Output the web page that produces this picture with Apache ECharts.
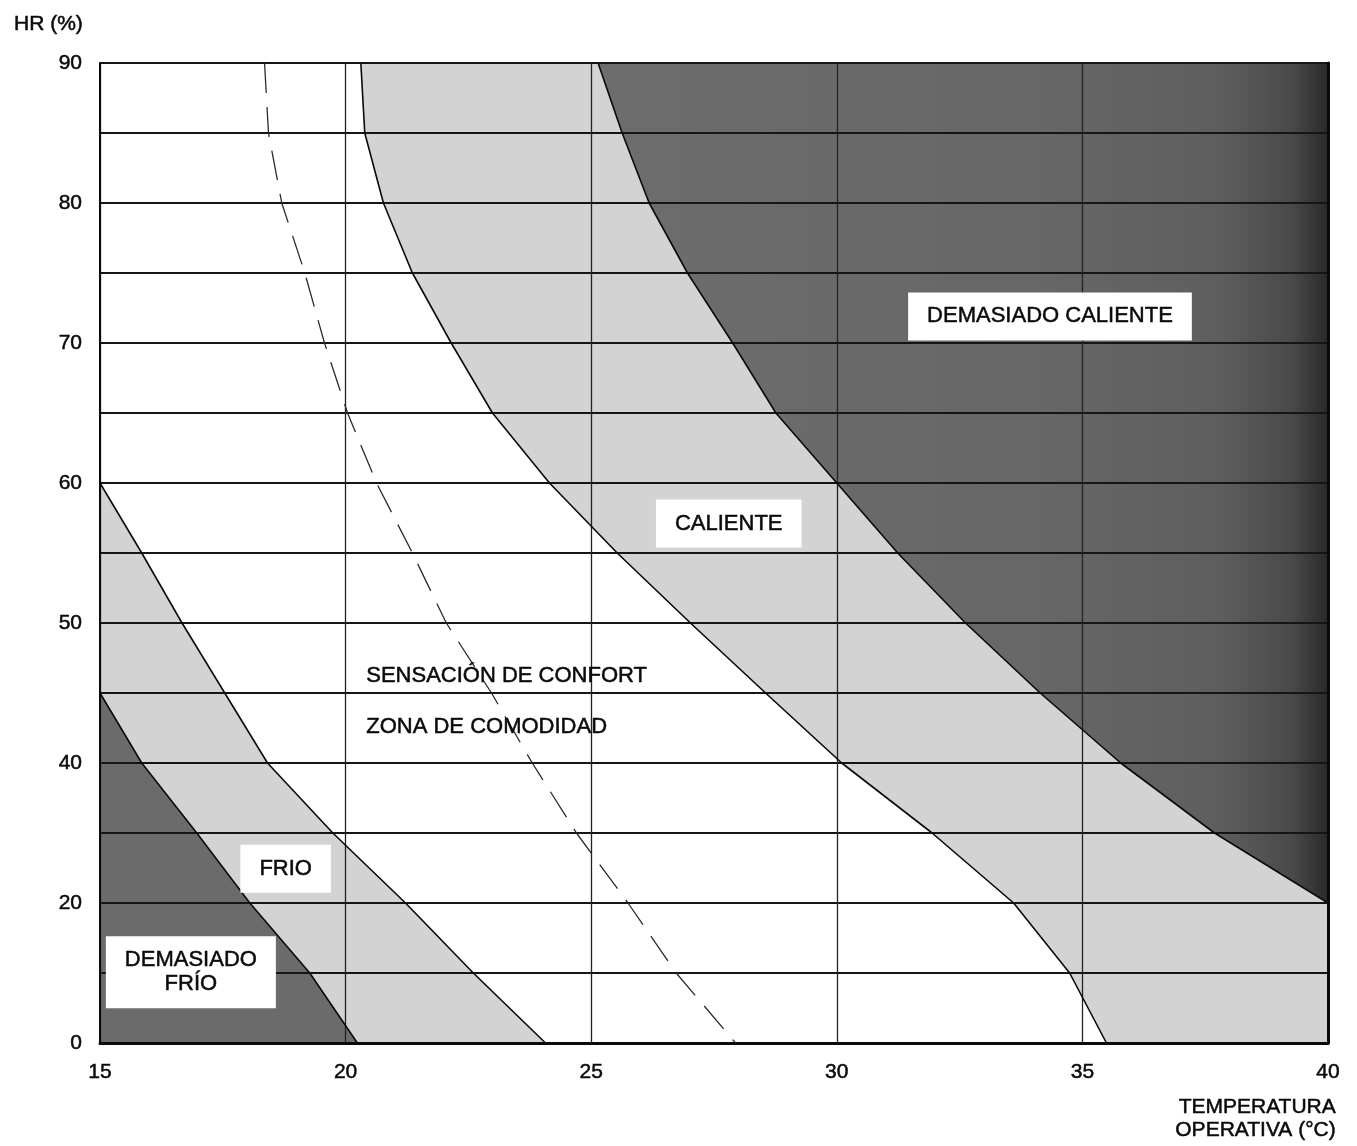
<!DOCTYPE html>
<html>
<head>
<meta charset="utf-8">
<title>Zonas de confort térmico</title>
<script src="https://cdn.jsdelivr.net/npm/echarts@6/dist/echarts.min.js"></script>
<style>
  html, body { margin: 0; background: #fff; }
  #chart { width: 1357px; height: 1146px; }
</style>
</head>
<body>
<div id="chart"></div>
<script>
(() => {
  "use strict";

  // temperatura operativa (°C) / humedad relativa (%)
  const tempTicks = [15, 20, 25, 30, 35, 40];
  const hrGridLines = [0, 10, 20, 30, 40, 45, 50, 55, 60, 65, 70, 75, 80, 85, 90];
  const hrTickLabels = [0, 20, 40, 50, 60, 70, 80, 90];

  // zone boundaries, [temp, HR]
  const tooColdEdge = [[15, 45], [15.85, 40], [16.97, 30], [18.05, 20], [19.27, 10], [20.24, 0]];
  const coldEdge = [[15, 60], [15.85, 55], [16.67, 50], [17.54, 45], [18.41, 40], [19.74, 30],
    [21.22, 20], [22.6, 10], [24.07, 0]];
  const warmEdge = [[20.31, 90], [20.39, 85], [20.77, 80], [21.36, 75], [22.15, 70], [22.99, 65],
    [24.15, 60], [25.53, 55], [27.02, 50], [28.55, 45], [30.1, 40], [31.94, 30], [33.6, 20],
    [34.74, 10], [35.49, 0]];
  const hotEdge = [[25.14, 90], [25.63, 85], [26.18, 80], [26.96, 75], [27.88, 70], [28.76, 65],
    [30, 60], [31.24, 55], [32.62, 50], [34.14, 45], [35.78, 40], [37.69, 30], [40, 20]];
  const neutralLine = [[18.35, 90], [18.43, 85], [18.7, 80], [19.17, 75], [19.57, 70], [20.04, 65],
    [20.63, 60], [21.36, 55], [22.05, 50], [22.97, 45], [23.8, 40], [24.7, 30], [25.75, 20],
    [26.73, 10], [27.94, 0]];

  const zoneLabels = [
    ["DEMASIADO CALIENTE", 34.34, 71.9],
    ["CALIENTE", 27.8, 57.1],
    ["FRIO", 18.78, 24.9],
    ["DEMASIADO\nFRÍO", 16.85, 10.1],
  ];
  const comfortLabels = [
    ["SENSACIÓN DE CONFORT", 20.41, 46.2],
    ["ZONA DE COMODIDAD", 20.41, 42.6],
  ];

  // HR axis is stretched above 40 %: one grid step = 10 % below, 5 % above
  const hrToAxis = (hr) => (hr <= 40 ? hr / 10 : 4 + (hr - 40) / 5);
  const axisToHr = (v) => (v <= 4 ? v * 10 : 40 + (v - 4) * 5);
  const toPoint = ([t, hr]) => [t, hrToAxis(hr)];
  const reversed = (pts) => pts.slice().reverse();

  const font = '"Liberation Sans", Arial, Helvetica, sans-serif';
  const ink = "#0a0a0a";
  const heavy = { textBorderColor: ink, textBorderWidth: 0.5 };

  const hotFill = new echarts.graphic.LinearGradient(0, 0, 1, 0, [
    { offset: 0, color: "#6d6d6d" },
    { offset: 0.6, color: "#676767" },
    { offset: 0.85, color: "#5e5e5e" },
    { offset: 0.95, color: "#4a4a4a" },
    { offset: 1, color: "#2a2a2a" },
  ]);

  const zones = [
    { fill: "#6b6b6b", points: [...tooColdEdge, [15, 0]] },
    { fill: "#d3d3d3", points: [...coldEdge, ...reversed(tooColdEdge)] },
    { fill: "#d3d3d3", points: [...warmEdge, [40, 0], ...reversed(hotEdge)] },
    { fill: hotFill, points: [...hotEdge, [40, 90]] },
  ];

  const edgeSeries = (points, extra = {}) => ({
    type: "line",
    data: points.map(toPoint),
    symbol: "none",
    silent: true,
    z: 4,
    lineStyle: { color: ink, width: 1.6, ...extra },
  });

  const labelSeries = (items, label) => ({
    type: "scatter",
    silent: true,
    z: 6,
    symbolSize: 1,
    itemStyle: { color: "rgba(0,0,0,0)", opacity: 1 },
    data: items.map(([text, t, hr]) => ({ name: text, value: toPoint([t, hr]) })),
    label: {
      show: true,
      formatter: (p) => p.name,
      fontSize: 22,
      fontFamily: font,
      color: ink,
      opacity: 1,
      ...heavy,
      ...label,
    },
  });

  const chart = echarts.init(document.getElementById("chart"), null, { renderer: "canvas" });

  chart.setOption({
    animation: false,
    backgroundColor: "#fff",
    textStyle: { fontFamily: font },
    title: {
      text: "HR (%)",
      left: 9,
      top: 9,
      textStyle: { fontFamily: font, fontSize: 21, fontWeight: "normal", color: ink, ...heavy },
    },
    graphic: [{
      type: "text",
      right: 21,
      top: 1096,
      style: {
        text: "TEMPERATURA\nOPERATIVA (°C)",
        font: `21px ${font}`,
        fill: ink,
        stroke: ink,
        lineWidth: 0.5,
        textAlign: "right",
        lineHeight: 23,
      },
    }],
    grid: { left: 100, right: 29, top: 63, bottom: 103 },
    xAxis: [
      {
        type: "value",
        min: tempTicks[0],
        max: tempTicks[tempTicks.length - 1],
        interval: 5,
        z: 3,
        axisLine: { show: true, lineStyle: { color: ink, width: 2 } },
        axisTick: { show: false },
        axisLabel: { color: ink, fontSize: 21, fontFamily: font, margin: 19, ...heavy },
        splitLine: { show: true, lineStyle: { color: "#222", width: 1.3 } },
      },
      {
        type: "value",
        position: "top",
        min: 15,
        max: 40,
        z: 3,
        axisLine: { show: true, lineStyle: { color: ink, width: 3 } },
        axisTick: { show: false },
        axisLabel: { show: false },
        splitLine: { show: false },
      },
    ],
    yAxis: [
      {
        type: "value",
        min: 0,
        max: hrToAxis(hrGridLines[hrGridLines.length - 1]),
        interval: 1,
        z: 3,
        axisLine: { show: true, lineStyle: { color: ink, width: 2 } },
        axisTick: { show: false },
        axisLabel: {
          color: ink,
          fontSize: 21,
          fontFamily: font,
          margin: 18,
          ...heavy,
          formatter: (v) => {
            const hr = Math.round(axisToHr(v));
            return hrTickLabels.includes(hr) ? String(hr) : "";
          },
        },
        splitLine: { show: true, lineStyle: { color: "#151515", width: 2 } },
      },
      {
        type: "value",
        position: "right",
        min: 0,
        max: 14,
        z: 3,
        axisLine: { show: true, lineStyle: { color: ink, width: 3 } },
        axisTick: { show: false },
        axisLabel: { show: false },
        splitLine: { show: false },
      },
    ],
    series: [
      {
        type: "custom",
        silent: true,
        z: 1,
        data: zones.map((zone, i) => [...toPoint(zone.points[0]), i]),
        renderItem: (params, api) => {
          const zone = zones[api.value(2)];
          return {
            type: "polygon",
            shape: { points: zone.points.map((p) => api.coord(toPoint(p))) },
            style: { fill: zone.fill, stroke: null },
          };
        },
      },
      edgeSeries(tooColdEdge),
      edgeSeries(coldEdge),
      edgeSeries(warmEdge),
      edgeSeries(hotEdge),
      edgeSeries(neutralLine, { color: "#2a2a2a", width: 1.3, type: [30, 14] }),
      labelSeries(zoneLabels, {
        position: "inside",
        backgroundColor: "#fff",
        padding: [12, 19],
        lineHeight: 24,
        align: "center",
        verticalAlign: "middle",
      }),
      labelSeries(comfortLabels, { position: "right", distance: 0 }),
    ],
  });
})();
</script>
</body>
</html>
